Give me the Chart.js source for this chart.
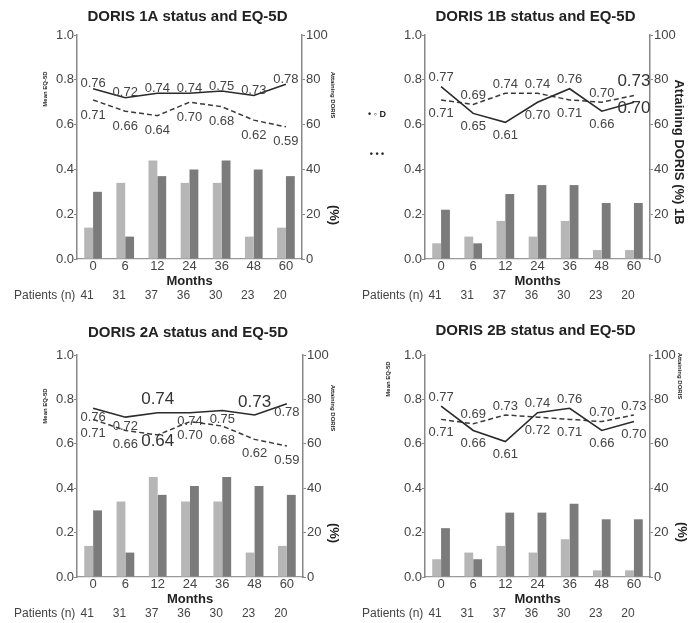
<!DOCTYPE html>
<html><head><meta charset="utf-8">
<script src="https://cdn.jsdelivr.net/npm/chart.js@4.4.1/dist/chart.umd.min.js"></script>
<style>
html,body{margin:0;padding:0;background:#fff;}
#wrap{position:relative;width:696px;height:623px;overflow:hidden;}
canvas{position:absolute;}
</style></head><body>
<div id="wrap">
<canvas id="c1" width="348" height="310" style="left:0;top:0"></canvas>
<canvas id="c2" width="348" height="310" style="left:348px;top:0"></canvas>
<canvas id="c3" width="348" height="313" style="left:0;top:310px"></canvas>
<canvas id="c4" width="348" height="313" style="left:348px;top:310px"></canvas>
</div>
<script>
// ---- data ----
const months = ['0','6','12','24','36','48','60'];
const patients = [41,31,37,36,30,23,20];

const solid1A  = [0.76,0.72,0.74,0.74,0.75,0.73,0.78];
const dashed1A = [0.71,0.66,0.64,0.70,0.68,0.62,0.59];
const light1A  = [14,34,44,34,34,10,14];
const dark1A   = [30,10,37,40,44,40,37];

const solid1B  = [0.77,0.65,0.61,0.70,0.76,0.66,0.70];
const dashed1B = [0.71,0.69,0.74,0.74,0.71,0.70,0.73];
const light1B  = [7,10,17,10,17,4,4];
const dark1B   = [22,7,29,33,33,25,25];

const solid2A  = [0.76,0.72,0.74,0.74,0.75,0.73,0.78];
const dashed2A = [0.71,0.66,0.64,0.70,0.68,0.62,0.59];
const light2A  = [14,34,45,34,34,11,14];
const dark2A   = [30,11,37,41,45,41,37];

const solid2B  = [0.77,0.66,0.61,0.74,0.76,0.66,0.70];
const dashed2B = [0.71,0.69,0.73,0.72,0.71,0.70,0.73];
const light2B  = [8,11,14,11,17,3,3];
const dark2B   = [22,8,29,29,33,26,26];

// ---- styling ----
const FONT = '"Liberation Sans", Arial, Helvetica, sans-serif';
const TXT = '#444';

const extras = {
  id: 'extras',
  afterDraw(chart, args, o) {
    const {ctx, chartArea: a, scales} = chart;
    const x = scales.x, y = scales.y;
    const cx = (a.left + a.right) / 2;
    ctx.save();
    ctx.textBaseline = 'middle';
    // title
    ctx.font = 'bold 15px ' + FONT; ctx.fillStyle = '#222'; ctx.textAlign = 'center';
    ctx.fillText(o.title, cx - 2, a.top - o.titleGap);
    // x title
    ctx.font = 'bold 13px ' + FONT;
    ctx.fillText('Months', cx, a.bottom + 22);
    // patients row
    ctx.font = '12px ' + FONT; ctx.fillStyle = TXT; ctx.textAlign = 'left';
    ctx.fillText('Patients (n)', 14, a.bottom + 37);
    ctx.textAlign = 'center';
    patients.forEach((n, i) => ctx.fillText(String(n), x.getPixelForValue(i) - 6, a.bottom + 37));
    // data labels
    const ds = chart.data.datasets;
    const s = ds[0].data, d = ds[1].data;
    s.forEach((sv, i) => {
      const dv = d[i];
      const px = x.getPixelForValue(i);
      const items = [
        {v: sv, hi: sv >= dv, key: 's'},
        {v: dv, hi: dv > sv, key: 'd'}
      ];
      items.forEach(it => {
        const big = o.big.includes(it.key + i);
        let off = it.hi ? o.hiOff : o.loOff;
        if (big) off = it.hi ? o.bigHi : 6;
        ctx.font = (big ? '17px ' : '13px ') + FONT;
        ctx.fillStyle = big ? '#333' : TXT;
        ctx.fillText(it.v.toFixed(2), px, y.getPixelForValue(it.v) + off);
      });
    });
    // side texts
    o.side.forEach(t => {
      ctx.save();
      ctx.translate(t.x, t.y);
      ctx.rotate((t.rot || 0) * Math.PI / 180);
      ctx.font = t.font; ctx.fillStyle = t.color || '#222'; ctx.textAlign = 'center';
      ctx.fillText(t.text, 0, 0);
      ctx.restore();
    });
    ctx.restore();
  }
};

const panels = [
  {id:'c1', title:'DORIS 1A status and EQ-5D', solid:solid1A, dashed:dashed1A, light:light1A, dark:dark1A,
   area:{left:77,right:302,top:35,bottom:259}, W:348, H:310, titleGap:18, hiOff:-5, loOff:15, big:[], bigHi:-14,
   side:[{text:'Mean EQ-5D', x:45, y:89, rot:-90, font:'bold 6px '+FONT},
         {text:'Attaining DORIS', x:333, y:95, rot:90, font:'bold 6px '+FONT},
         {text:'(%)', x:334, y:215, rot:90, font:'bold 13px '+FONT}]},
  {id:'c2', title:'DORIS 1B status and EQ-5D', solid:solid1B, dashed:dashed1B, light:light1B, dark:dark1B,
   area:{left:77,right:302,top:35,bottom:259}, W:348, H:310, titleGap:18, hiOff:-9, loOff:13, big:['s6','d6'], bigHi:-14,
   side:[{text:'\u2022 \u25E6 D', x:29, y:115, rot:0, font:'bold 9px '+FONT},
         {text:'\u2022 \u2022 \u2022', x:29, y:155, rot:0, font:'bold 9px '+FONT},
         {text:'Attaining DORIS (%) 1B', x:331, y:152, rot:90, font:'bold 13px '+FONT}]},
  {id:'c3', title:'DORIS 2A status and EQ-5D', solid:solid2A, dashed:dashed2A, light:light2A, dark:dark2A,
   area:{left:77,right:303,top:45,bottom:267}, W:348, H:313, titleGap:22, hiOff:9, loOff:14, big:['s2','s5','d2'], bigHi:-13,
   side:[{text:'Mean EQ-5D', x:45, y:96, rot:-90, font:'bold 6px '+FONT},
         {text:'Attaining DORIS', x:333, y:98, rot:90, font:'bold 6px '+FONT},
         {text:'(%)', x:334, y:223, rot:90, font:'bold 13px '+FONT}]},
  {id:'c4', title:'DORIS 2B status and EQ-5D', solid:solid2B, dashed:dashed2B, light:light2B, dark:dark2B,
   area:{left:77,right:302,top:45,bottom:267}, W:348, H:313, titleGap:24, hiOff:-9, loOff:13, big:[], bigHi:-14,
   side:[{text:'Mean EQ-5D', x:40, y:69, rot:-90, font:'bold 6px '+FONT},
         {text:'Attaining DORIS', x:332, y:66, rot:90, font:'bold 6px '+FONT},
         {text:'(%)', x:334, y:222, rot:90, font:'bold 13px '+FONT}]}
];

panels.forEach(p => {
  new Chart(document.getElementById(p.id), {
    data: {
      labels: months,
      datasets: [
        {type:'line', data:p.solid, yAxisID:'y', borderColor:'#2a2a2a', borderWidth:1.6, pointRadius:0, tension:0, fill:false, order:0},
        {type:'line', data:p.dashed, yAxisID:'y', borderColor:'#3a3a3a', borderWidth:1.5, borderDash:[5,3], pointRadius:0, tension:0, fill:false, order:1},
        {type:'bar', data:p.light, yAxisID:'y1', backgroundColor:'#b6b6b6', categoryPercentage:0.55, barPercentage:1, order:2},
        {type:'bar', data:p.dark, yAxisID:'y1', backgroundColor:'#7b7b7b', categoryPercentage:0.55, barPercentage:1, order:3}
      ]
    },
    options: {
      responsive:false, animation:false, devicePixelRatio:1,
      layout:{padding:{top:p.area.top, left:0, right:0, bottom:0}},
      plugins:{
        legend:{display:false}, tooltip:{enabled:false}, title:{display:false},
        extras:{title:p.title, titleGap:p.titleGap, hiOff:p.hiOff, loOff:p.loOff, big:p.big, bigHi:p.bigHi, side:p.side}
      },
      scales:{
        x:{
          grid:{display:false, drawTicks:false},
          border:{display:true, color:'#999', width:1.2},
          ticks:{padding:0, color:TXT, font:{family:FONT, size:13}, maxRotation:0, autoSkip:false},
          afterFit(s){ s.height = p.H - p.area.bottom; }
        },
        y:{
          position:'left', min:0, max:1,
          ticks:{stepSize:0.2, callback:v => v.toFixed(1), padding:0, color:TXT, font:{family:FONT, size:13}},
          grid:{drawOnChartArea:false, drawTicks:true, tickLength:3, color:'#888'},
          border:{display:true, color:'#888', width:1.5},
          afterFit(s){ s.width = p.area.left; }
        },
        y1:{
          position:'right', min:0, max:100,
          ticks:{stepSize:20, padding:1, color:TXT, font:{family:FONT, size:13}},
          grid:{drawOnChartArea:false, drawTicks:true, tickLength:3, color:'#888'},
          border:{display:true, color:'#888', width:1.5},
          afterFit(s){ s.width = p.W - p.area.right; }
        }
      }
    },
    plugins:[extras]
  });
});
</script>
</body></html>
